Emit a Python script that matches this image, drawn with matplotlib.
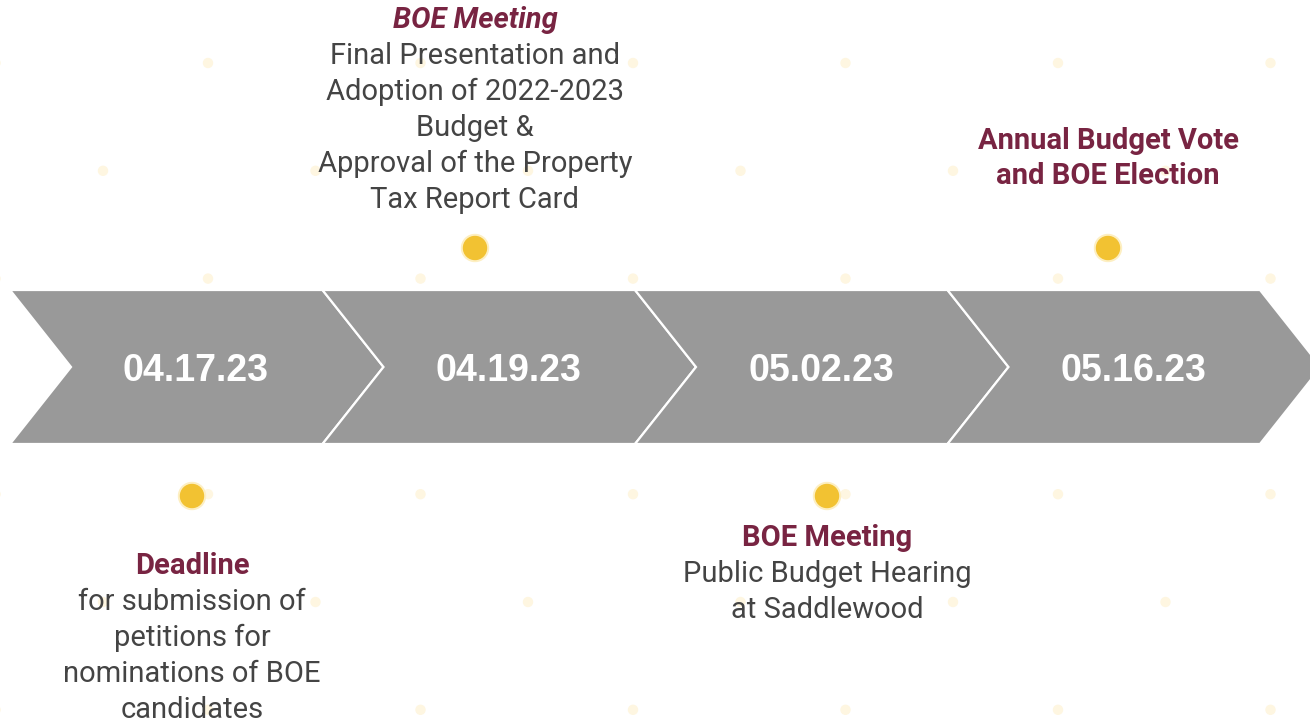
import matplotlib.pyplot as plt
from matplotlib.patches import Polygon, Circle

# Data
dates = ["04.17.23", "04.19.23", "05.02.23", "05.16.23"]
sides = ["below", "above", "below", "above"]
titles = ["Deadline", "BOE Meeting", "BOE Meeting", "Annual Budget Vote\nand BOE Election"]
title_italic = [False, True, False, False]
details = [
    ["for submission of", "petitions for", "nominations of BOE", "candidates"],
    ["Final Presentation and", "Adoption of 2022-2023", "Budget &",
     "Approval of the Property", "Tax Report Card"],
    ["Public Budget Hearing", "at Saddlewood"],
    [],
]

W, H = 1310, 721
fig = plt.figure(figsize=(W / 100, H / 100), dpi=100)
ax = fig.add_axes([0, 0, 1, 1])
ax.set_xlim(0, W)
ax.set_ylim(H, 0)
ax.axis("off")

maroon = "#782442"
body = "#444444"
gray = "#999999"

# faint background dots (staggered grid)
row_y = [63 + 107.8 * r for r in range(7)]
for r, yy in enumerate(row_y):
    start = 208 if r % 2 == 0 else 103
    xx = start - 212.5
    while xx < W + 10:
        ax.add_patch(Circle((xx, yy), 4.5, color="#FEF6E1", zorder=0))
        xx += 212.5

# chevrons
step, depth = 312.5, 61
top, bot = 290, 444
mid = (top + bot) / 2
for i, d in enumerate(dates):
    x0 = 10 + step * i
    x1 = x0 + step
    pts = [(x0, top), (x1, top), (x1 + depth, mid), (x1, bot), (x0, bot), (x0 + depth, mid)]
    ax.add_patch(Polygon(pts, closed=True, facecolor=gray, edgecolor="white",
                         linewidth=1.6, zorder=2))
    ax.text(x0 + 186, mid + 4, d, color="white", fontsize=27, fontweight="bold",
            family="Liberation Sans", ha="center", va="center", zorder=3)

# events: marker / text block x position for each date
event_x = [192, 475, 827, 1108]
line_h = 36
for i in range(len(dates)):
    cx = event_x[i]
    dot_y = 248 if sides[i] == "above" else 496
    ax.add_patch(Circle((cx, dot_y), 13.5, color="#FDEFC2", zorder=3))
    ax.add_patch(Circle((cx, dot_y), 11.5, color="#F2C232", zorder=4))

    lines = [(t, True) for t in titles[i].split("\n")] + [(t, False) for t in details[i]]
    if sides[i] == "above":
        if details[i]:
            ys = [200 - line_h * (len(lines) - 1 - k) for k in range(len(lines))]
        else:
            ys = [141, 176]
    else:
        y_first = 566 if i == 0 else 538
        ys = [y_first + line_h * k for k in range(len(lines))]
    for (txt, is_title), yy in zip(lines, ys):
        if is_title:
            ax.text(cx, yy, txt, color=maroon, fontsize=21, fontweight="bold",
                    style="italic" if title_italic[i] else "normal",
                    family="Roboto", ha="center", va="center", zorder=5)
        else:
            ax.text(cx, yy, txt, color=body, fontsize=21,
                    family="Roboto", ha="center", va="center", zorder=5)

fig.savefig("out.png", dpi=100)
